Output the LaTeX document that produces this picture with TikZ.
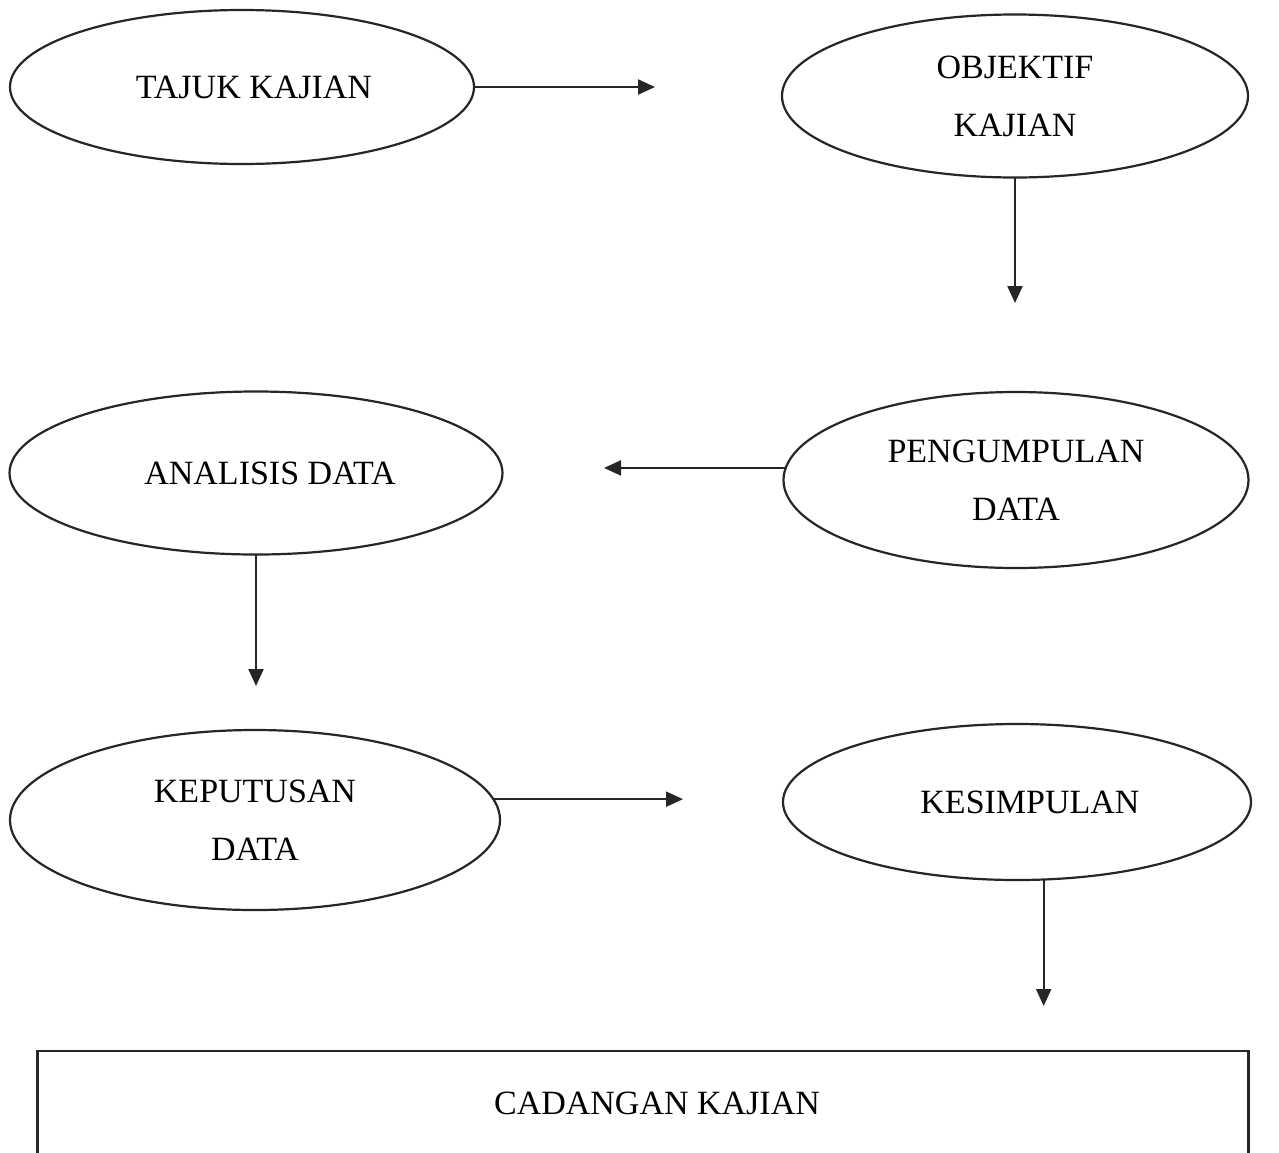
\documentclass[tikz,border=0pt]{standalone}
\usepackage{fontspec}
\setmainfont{Liberation Serif}
\usetikzlibrary{shapes.geometric,arrows.meta}
\begin{document}
\begin{tikzpicture}[x=1pt,y=-1pt,
  oval/.style={ellipse,draw=black!85,line width=2.2pt,inner sep=0pt,outer sep=0pt,align=center,font=\fontsize{34}{58}\selectfont},
  box/.style={rectangle,draw=black!85,line width=2.2pt,inner sep=0pt,outer sep=0pt,font=\fontsize{34}{58}\selectfont},
  arr/.style={draw=black!85,line width=2.2pt,-{Triangle[length=17pt,width=15pt]}},
  ]
\useasboundingbox[fill=white] (0,0) rectangle (1279,1152);
\node[oval,minimum width=464pt,minimum height=154pt] (tajuk) at (242,87) {\hspace*{24pt}TAJUK KAJIAN};
\node[oval,minimum width=466pt,minimum height=163pt] (objektif) at (1015,96) {OBJEKTIF\\KAJIAN};
\node[oval,minimum width=493pt,minimum height=163pt] (analisis) at (256,473) {\hspace*{28pt}ANALISIS DATA};
\node[oval,minimum width=465pt,minimum height=176pt] (pengumpulan) at (1016,480) {PENGUMPULAN\\DATA};
\node[oval,minimum width=490pt,minimum height=180pt] (keputusan) at (255,820) {KEPUTUSAN\\DATA};
\node[oval,minimum width=468pt,minimum height=156pt] (kesimpulan) at (1017,802) {\hspace*{26pt}KESIMPULAN};
\node[box,minimum width=1211pt,minimum height=104pt] (cadangan) at (643,1103) {\hspace*{28pt}CADANGAN KAJIAN};

\coordinate (c1) at (655,86);
\coordinate (c2) at (1016,303);
\coordinate (c3) at (604,469);
\coordinate (c4) at (256,686);
\coordinate (c5) at (683,799);
\coordinate (c6) at (1043,1006);

\draw[arr] (tajuk.east) -- (tajuk.east -| c1);
\draw[arr] (objektif.south) -- (objektif.south |- c2);
\draw[arr] (pengumpulan.177) -- (pengumpulan.177 -| c3);
\draw[arr] (analisis.south) -- (analisis.south |- c4);
\draw[arr] (keputusan.5) -- (keputusan.5 -| c5);
\draw[arr] (kesimpulan.-71.6) -- (kesimpulan.-71.6 |- c6);
\end{tikzpicture}
\end{document}
